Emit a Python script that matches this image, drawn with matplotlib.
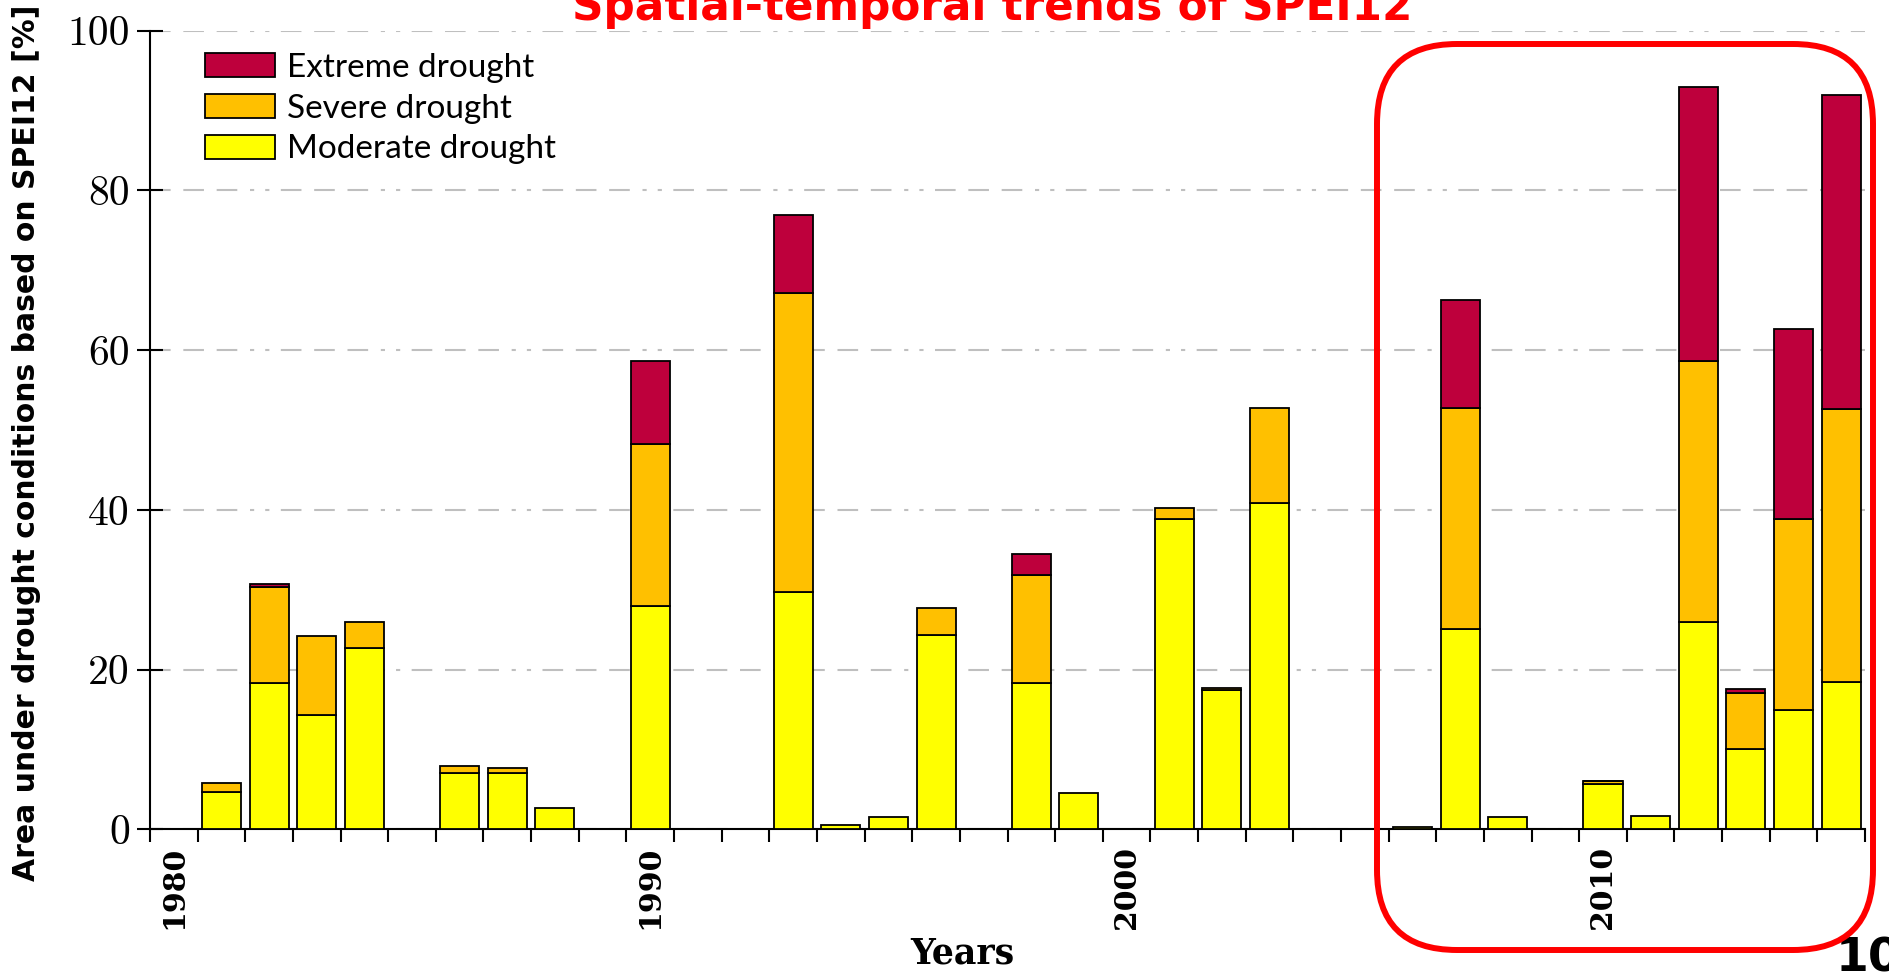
import numpy as np
import matplotlib.pyplot as plt
from matplotlib.patches import FancyBboxPatch, Patch
from matplotlib.transforms import IdentityTransform

# drought area per year [%]
years = list(range(1980, 2016))
moderate = [0, 4.7, 18.3, 14.3, 22.7, 0, 7.0, 7.0, 2.7, 0,
            27.9, 0, 0, 29.7, 0.5, 1.6, 24.3, 0, 18.3, 4.5,
            0, 38.9, 17.4, 40.9, 0, 0, 0.3, 25.1, 1.6, 0,
            5.7, 1.7, 26.0, 10.1, 15.0, 18.4]
severe = [0, 1.1, 12.0, 9.9, 3.3, 0, 0.9, 0.7, 0, 0,
          20.4, 0, 0, 37.4, 0, 0, 3.4, 0, 13.5, 0,
          0, 1.3, 0.3, 11.9, 0, 0, 0, 27.7, 0, 0,
          0.3, 0, 32.6, 7.0, 23.9, 34.2]
extreme = [0, 0, 0.4, 0, 0, 0, 0, 0, 0, 0,
           10.3, 0, 0, 9.8, 0, 0, 0, 0, 2.7, 0,
           0, 0, 0, 0, 0, 0, 0, 13.5, 0, 0,
           0.1, 0, 34.3, 0.5, 23.8, 39.3]
labeled_years = [1980, 1990, 2000, 2010]
yticks = [0, 20, 40, 60, 80, 100]

c_ext = '#BE003C'
c_sev = '#FFC000'
c_mod = '#FFFF00'

W, H = 1889, 974
fig = plt.figure(figsize=(W / 100, H / 100), dpi=100)
ax = fig.add_axes([150 / W, 1 - 829.3 / H, 1715 / W, (829.3 - 30.7) / H])

x = np.array(years)
mod = np.array(moderate)
sev = np.array(severe)
ext = np.array(extreme)
bw = 0.82
m = mod > 0
ax.bar(x[m], mod[m], width=bw, color=c_mod, edgecolor='black', linewidth=1.3, zorder=3)
m = sev > 0
ax.bar(x[m], sev[m], bottom=mod[m], width=bw, color=c_sev, edgecolor='black', linewidth=1.3, zorder=3)
m = ext > 0
ax.bar(x[m], ext[m], bottom=(mod + sev)[m], width=bw, color=c_ext, edgecolor='black', linewidth=1.3, zorder=3)

ax.set_xlim(1979.5, 2015.5)
ax.set_ylim(0, 100)
for s in ['top', 'right']:
    ax.spines[s].set_visible(False)
for s in ['left', 'bottom']:
    ax.spines[s].set_linewidth(1.5)

# grid: three dashes then two dots
ax.set_axisbelow(True)
ax.yaxis.grid(True, color='#BFBFBF', linewidth=1.5,
              linestyle=(0, (9.9, 6.1, 9.9, 6.1, 9.9, 6.1, 2, 5.3, 2, 5.5)))

ax.set_yticks(yticks)
ax.set_yticklabels([str(v) for v in yticks], fontfamily='cmr10', fontsize=30)
ax.tick_params(axis='y', direction='inout', length=19, width=1.5, pad=5)

ax.set_xticks(labeled_years)
ax.set_xticklabels([str(v) for v in labeled_years], rotation=90,
                   fontfamily='DejaVu Serif', fontweight='bold', fontsize=21.5)
ax.set_xticks(np.arange(1979.5, 2016, 1), minor=True)
ax.tick_params(axis='x', which='major', length=0, pad=12)
ax.tick_params(axis='x', which='minor', direction='out', length=9, width=1.5)

handles = [Patch(facecolor=c_ext, edgecolor='black', linewidth=1.3),
           Patch(facecolor=c_sev, edgecolor='black', linewidth=1.3),
           Patch(facecolor=c_mod, edgecolor='black', linewidth=1.3)]
ax.legend(handles, ['Extreme drought', 'Severe drought', 'Moderate drought'],
          loc='upper left', bbox_to_anchor=(205 / W, 1 - 53 / H), bbox_transform=fig.transFigure,
          frameon=False, borderpad=0, borderaxespad=0, prop={'family': 'Lato', 'size': 24},
          handlelength=2.1, handleheight=0.72, handletextpad=0.36, labelspacing=0.32)

fig.text(27 / W, 1 - 443 / H, 'Area under drought conditions based on SPEI12 [%]',
         rotation=90, ha='center', va='center', fontweight='bold', fontsize=21.5)
fig.text(962 / W, 1 - 953 / H, 'Years', ha='center', va='center',
         fontfamily='DejaVu Serif', fontweight='bold', fontsize=25)
fig.text(572 / W, 1 - 20 / H, 'Spatial-temporal trends of SPEI12', color='#FF0000',
         ha='left', va='baseline', fontweight='bold', fontsize=31.5)
fig.text(1836 / W, 1 - 936 / H, '10', ha='left', va='top', fontweight='bold', fontsize=34)

box = FancyBboxPatch((1377, H - 950), 1873 - 1377, 950 - 44,
                     boxstyle='round,pad=0,rounding_size=80',
                     facecolor='none', edgecolor='#FF0000', linewidth=4.3,
                     transform=IdentityTransform(), zorder=10)
fig.add_artist(box)

fig.savefig('out.png', dpi=100)
